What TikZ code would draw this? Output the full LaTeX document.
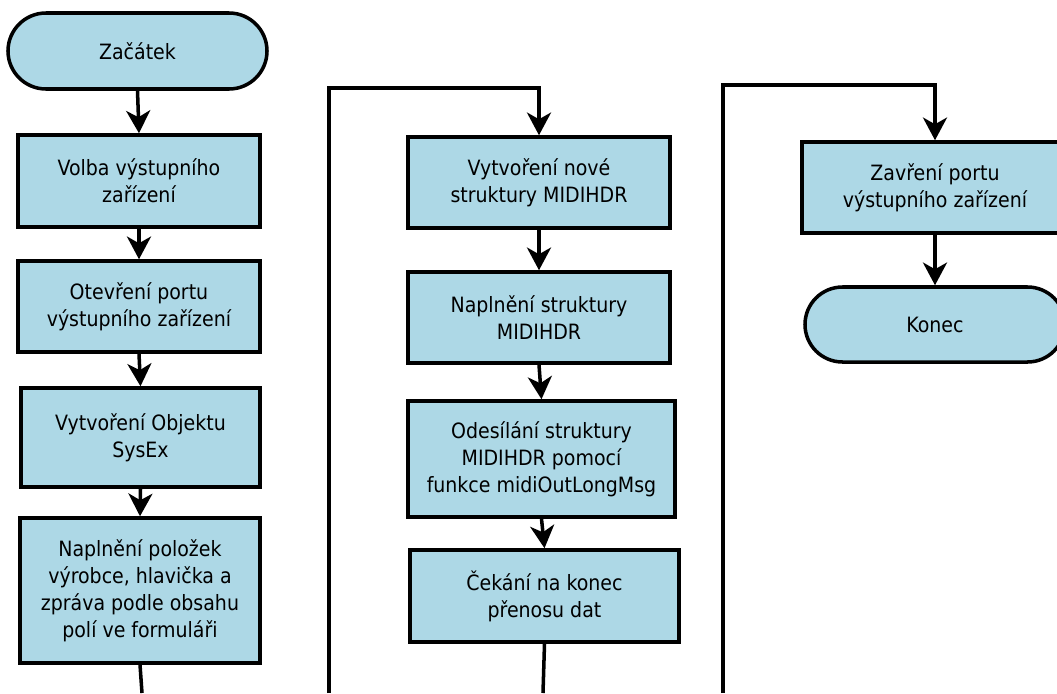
\documentclass[tikz,border=0pt]{standalone}
\usepackage{fontspec}
\setmainfont{DejaVu Sans Condensed}
\usepackage{tikz}
\usetikzlibrary{shapes.misc}
\usetikzlibrary{arrows.meta}
\definecolor{svetlemodra}{RGB}{173,216,230}

\begin{document}
\begin{tikzpicture}[x=0.03cm,y=-0.03cm,
  krok/.style={draw,line width=3pt,fill=svetlemodra,rectangle,align=center,inner sep=0pt,
    font=\fontsize{18}{23}\selectfont},
  konc/.style={krok,rounded rectangle},
  sipka/.style={line width=3pt,-{Stealth[length=0.68cm,width=0.72cm,inset=0.2cm]}},
  cara/.style={line width=3pt}]
\useasboundingbox (0,0) rectangle (1057,693);
\clip (0,0) rectangle (1057,693);
% prvni sloupec
\node[konc,minimum width=7.77cm,minimum height=2.28cm] (zacatek) at (137.5,51) {Začátek};
\node[krok,minimum width=7.26cm,minimum height=2.76cm] (volba) at (139,181) {Volba výstupního\\zařízení};
\node[krok,minimum width=7.26cm,minimum height=2.73cm] (otevreni) at (139,306.5) {Otevření portu\\výstupního zařízení};
\node[krok,minimum width=7.17cm,minimum height=2.97cm] (objekt) at (140.5,437.5) {Vytvoření Objektu\\SysEx};
\node[krok,minimum width=7.2cm,minimum height=4.35cm] (polozky) at (140,590.5) {Naplnění položek\\výrobce, hlavička a\\zpráva podle obsahu\\polí ve formuláři};
\coordinate (dole1) at (142,693);
\draw[sipka] (zacatek.south) -- (volba.north);
\draw[sipka] (volba.south) -- (otevreni.north);
\draw[sipka] (otevreni.south) -- (objekt.north);
\draw[sipka] (objekt.south) -- (polozky.north);
\draw[cara] (polozky.south) -- (dole1);
% druhy sloupec
\node[krok,minimum width=7.86cm,minimum height=2.73cm] (hdr) at (539,182.5) {Vytvoření nové\\struktury MIDIHDR};
\node[krok,minimum width=7.86cm,minimum height=2.73cm] (plneni) at (539,317.5) {Naplnění struktury\\MIDIHDR};
\node[krok,minimum width=8.01cm,minimum height=3.48cm] (odeslani) at (541.5,459) {Odesílání struktury\\MIDIHDR pomocí\\funkce midiOutLongMsg};
\node[krok,minimum width=8.07cm,minimum height=2.76cm] (cekani) at (544.5,596) {Čekání na konec\\přenosu dat};
\coordinate (vstup2) at (329,693);
\coordinate (roh2) at (329,88);
\coordinate (dole2) at (543,693);
\draw[sipka] (vstup2) -- (roh2) -| (hdr.north);
\draw[sipka] (hdr.south) -- (plneni.north);
\draw[sipka] (plneni.south) -- (odeslani.north);
\draw[sipka] (odeslani.south) -- (cekani.north);
\draw[cara] (cekani.south) -- (dole2);
% treti sloupec
\node[krok,minimum width=7.98cm,minimum height=2.73cm] (zavreni) at (935,187.5) {Zavření portu\\výstupního zařízení};
\node[konc,minimum width=7.8cm,minimum height=2.25cm] (konec) at (935,324.5) {Konec};
\coordinate (vstup3) at (723,693);
\coordinate (roh3) at (723,85);
\draw[sipka] (vstup3) -- (roh3) -| (zavreni.north);
\draw[sipka] (zavreni.south) -- (konec.north);
\end{tikzpicture}
\end{document}
